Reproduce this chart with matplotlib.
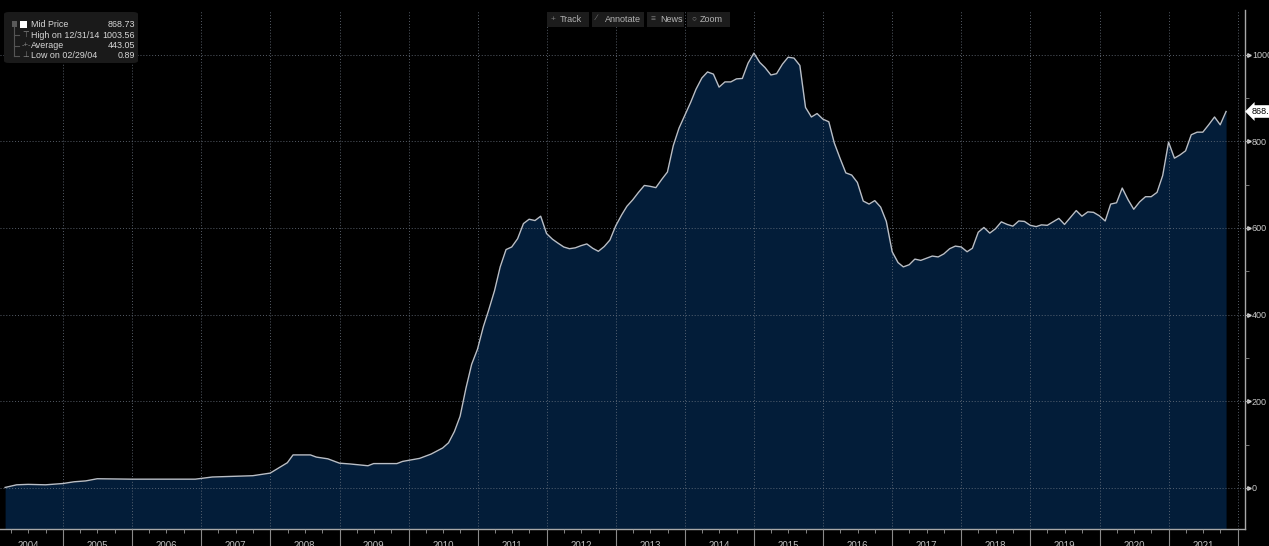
import matplotlib
matplotlib.use('Agg')
import matplotlib.dates as mdates
import matplotlib.pyplot as plt
import pandas as pd
from matplotlib.patches import FancyBboxPatch, Rectangle

# month-end mid price readings
months = [
    '2004-02', '2004-04', '2004-06', '2004-09', '2004-12',
    '2005-01', '2005-02', '2005-04', '2005-06', '2005-12',
    '2006-07', '2006-11',
    '2007-02', '2007-09', '2007-12',
    '2008-03', '2008-04', '2008-07', '2008-08', '2008-10', '2008-12',
    '2009-02', '2009-05', '2009-06', '2009-10', '2009-11',
    '2010-02', '2010-04', '2010-06', '2010-07', '2010-08', '2010-09',
    '2010-10', '2010-11', '2010-12',
    '2011-01', '2011-02', '2011-03', '2011-04', '2011-05', '2011-06',
    '2011-07', '2011-08', '2011-09', '2011-10', '2011-11', '2011-12',
    '2012-01', '2012-02', '2012-03', '2012-04', '2012-05', '2012-06',
    '2012-07', '2012-08', '2012-09', '2012-10', '2012-11', '2012-12',
    '2013-01', '2013-02', '2013-03', '2013-04', '2013-05', '2013-06',
    '2013-07', '2013-08', '2013-09', '2013-10', '2013-11', '2013-12',
    '2014-01', '2014-02', '2014-03', '2014-04', '2014-05', '2014-06',
    '2014-07', '2014-08', '2014-09', '2014-10', '2014-11', '2014-12',
    '2015-01', '2015-02', '2015-03', '2015-04', '2015-05', '2015-06',
    '2015-07', '2015-08', '2015-09', '2015-10', '2015-11', '2015-12',
    '2016-01', '2016-02', '2016-03', '2016-04', '2016-05', '2016-06',
    '2016-07', '2016-08', '2016-09', '2016-10', '2016-11', '2016-12',
    '2017-01', '2017-02', '2017-03', '2017-04', '2017-05', '2017-06',
    '2017-07', '2017-08', '2017-09', '2017-10', '2017-11', '2017-12',
    '2018-01', '2018-02', '2018-03', '2018-04', '2018-05', '2018-06',
    '2018-07', '2018-08', '2018-09', '2018-10', '2018-11', '2018-12',
    '2019-01', '2019-02', '2019-03', '2019-04', '2019-05', '2019-06',
    '2019-07', '2019-08', '2019-09', '2019-10', '2019-11', '2019-12',
    '2020-01', '2020-02', '2020-03', '2020-04', '2020-05', '2020-06',
    '2020-07', '2020-08', '2020-09', '2020-10', '2020-11', '2020-12',
    '2021-01', '2021-02', '2021-03', '2021-04', '2021-05', '2021-06',
    '2021-07', '2021-08', '2021-09', '2021-10',
]
mid_price = [
    0.89, 7, 8, 7, 10,
    12, 14, 16, 21, 20,
    20, 20,
    25, 28, 34,
    58, 76, 76, 71, 67, 57,
    55, 51, 56, 56, 61,
    68, 78, 92, 104, 130, 165,
    230, 285, 320,
    372, 410, 455, 510, 550, 556,
    575, 610, 620, 617, 627, 587,
    574, 565, 556, 552, 554, 559,
    563, 553, 546, 557, 572, 605,
    630, 650, 665, 682, 698, 696,
    693, 712, 729, 790, 830, 860,
    890, 920, 946, 960, 955, 925,
    937, 937, 944, 945, 980, 1003.56,
    982, 970, 953, 956, 978, 994,
    992, 975, 878, 856, 864, 851,
    845, 796, 760, 727, 722, 705,
    662, 655, 663, 648, 615, 545,
    520, 510, 515, 528, 525, 530,
    535, 533, 540, 552, 558, 556,
    545, 553, 590, 601, 588, 598,
    614, 608, 604, 616, 615, 606,
    603, 607, 606, 614, 622, 608,
    624, 640, 627, 637, 636, 628,
    616, 655, 658, 692, 665, 643,
    660, 672, 672, 682, 721, 798,
    761, 768, 778, 815, 821, 821,
    838, 856, 838, 868.73,
]

summary_labels = ['Mid Price', 'High on 12/31/14', 'Average', 'Low on 02/29/04']
summary_values = ['868.73', '1003.56', '443.05', '0.89']
y_ticks = [0, 200, 400, 600, 800, 1000]
years = list(range(2004, 2022))
toolbar = ['Track', 'Annotate', 'News', 'Zoom']
toolbar_icons = ['+', '\u2215', '\u2261', '\u25cb']

plt.rcParams['font.family'] = ['Liberation Sans', 'DejaVu Sans']

W, H = 1269, 546


def px(x, y):
    # pixel position -> figure fraction
    return x / W, 1 - y / H


dates = pd.to_datetime(months) + pd.offsets.MonthEnd(0)

fig = plt.figure(figsize=(W / 100, H / 100), dpi=100, facecolor='black')
ax = fig.add_axes([0, 17 / H, 1245 / W, 519 / H])
ax.set_facecolor('black')

ax.fill_between(dates, mid_price, -200, color='#031d39', lw=0, zorder=1)
ax.plot(dates, mid_price, color='#b9bec6', lw=1.0, zorder=3)

ax.set_xlim(pd.Timestamp('2004-02-02'), pd.Timestamp('2022-02-08'))
ax.set_ylim(-95, 1103)

ax.set_axisbelow(False)
ax.grid(True, which='major', color='#6b7480', ls=(0, (1, 2)), lw=0.7, alpha=0.8)

# right value axis
ax.yaxis.tick_right()
ax.set_yticks(y_ticks)
ax.set_yticks(range(100, 1100, 200), minor=True)
ax.tick_params(axis='y', which='major', length=3, color='#aaaaaa',
               labelcolor='#c8c8c8', labelsize=6.5, pad=2)
ax.tick_params(axis='y', which='minor', length=3, color='#888888')
ax.plot([1.003] * len(y_ticks), y_ticks, ls='none', marker='>', ms=2.5,
        color='#d0d0d0', transform=ax.get_yaxis_transform(), clip_on=False)

# bottom time axis
ax.xaxis.set_major_locator(mdates.YearLocator())
ax.xaxis.set_minor_locator(mdates.MonthLocator(bymonth=[4, 7, 10]))
ax.tick_params(axis='x', which='major', length=17, width=0.8, color='#8a8a8a',
               labelbottom=False)
ax.tick_params(axis='x', which='minor', length=3, color='#9a9a9a')
for yr in years:
    ax.text(pd.Timestamp(f'{yr}-07-01'), -0.032, str(yr), transform=ax.get_xaxis_transform(),
            ha='center', va='center', fontsize=7, color='#bcbcbc', clip_on=False)

for side in ['top', 'left']:
    ax.spines[side].set_visible(False)
for side in ['right', 'bottom']:
    ax.spines[side].set_color('#a8a8a8')
    ax.spines[side].set_linewidth(1)

# last value tag
ax.annotate(summary_values[0], xy=(1.0, mid_price[-1]), xycoords=ax.get_yaxis_transform(),
            xytext=(5, 0), textcoords='offset points', va='center', ha='left',
            fontsize=6.5, color='black', annotation_clip=False,
            bbox=dict(boxstyle='larrow,pad=0.2', fc='white', ec='none'))

# summary box in the top left
x0, y0 = px(4, 63)
x1, y1 = px(138, 12)
fig.patches.append(FancyBboxPatch((x0, y0), x1 - x0, y1 - y0, transform=fig.transFigure,
                                  boxstyle='round,pad=0,rounding_size=0.004',
                                  fc='#1a1a1a', ec='none', zorder=5))
rows = [24.5, 35, 45.5, 55.5]
sx, sy = px(20, 28)
fig.patches.append(Rectangle((sx, sy), 7 / W, 7 / H, transform=fig.transFigure,
                             fc='white', ec='none', zorder=6))
gx, gy = px(12, 27)
fig.patches.append(Rectangle((gx, gy), 5 / W, 6 / H, transform=fig.transFigure,
                             fc='#5a5a5a', ec='none', zorder=6))
fig.add_artist(plt.Line2D([14.5 / W, 14.5 / W], [1 - 27 / H, 1 - rows[-1] / H],
                          transform=fig.transFigure, color='#555555', lw=0.8, zorder=6))
for r in rows[1:]:
    fig.add_artist(plt.Line2D([14.5 / W, 19 / W], [1 - r / H, 1 - r / H],
                              transform=fig.transFigure, color='#555555', lw=0.8, zorder=6))
for sym, r in zip(['\u22a4', '-+-', '\u22a5'], rows[1:]):
    fig.text(*px(26, r), sym, fontsize=5.5, color='#8a8a8a', ha='center', va='center', zorder=7)
for lab, val, r in zip(summary_labels, summary_values, rows):
    fig.text(*px(31, r), lab, fontsize=6.4, color='#d8d8d8', ha='left', va='center', zorder=7)
    fig.text(*px(135, r), val, fontsize=6.4, color='#d8d8d8', ha='right', va='center', zorder=7)

# toolbar buttons at the top
buttons = [(547, 589), (592, 644), (647, 684), (687, 730)]
for (bx0, bx1), name, icon in zip(buttons, toolbar, toolbar_icons):
    fx, fy = px(bx0, 27)
    fig.patches.append(Rectangle((fx, fy), (bx1 - bx0) / W, 15 / H, transform=fig.transFigure,
                                 fc='#1c1c1c', ec='none', zorder=5))
    fig.text(*px(bx0 + 4, 19), icon, fontsize=6, color='#7a7a7a', ha='left', va='center', zorder=6)
    fig.text(*px(bx0 + 13, 19), name, fontsize=6.5, color='#b4b4b4', ha='left', va='center', zorder=6)

fig.savefig('out.png', dpi=100, facecolor='black')
